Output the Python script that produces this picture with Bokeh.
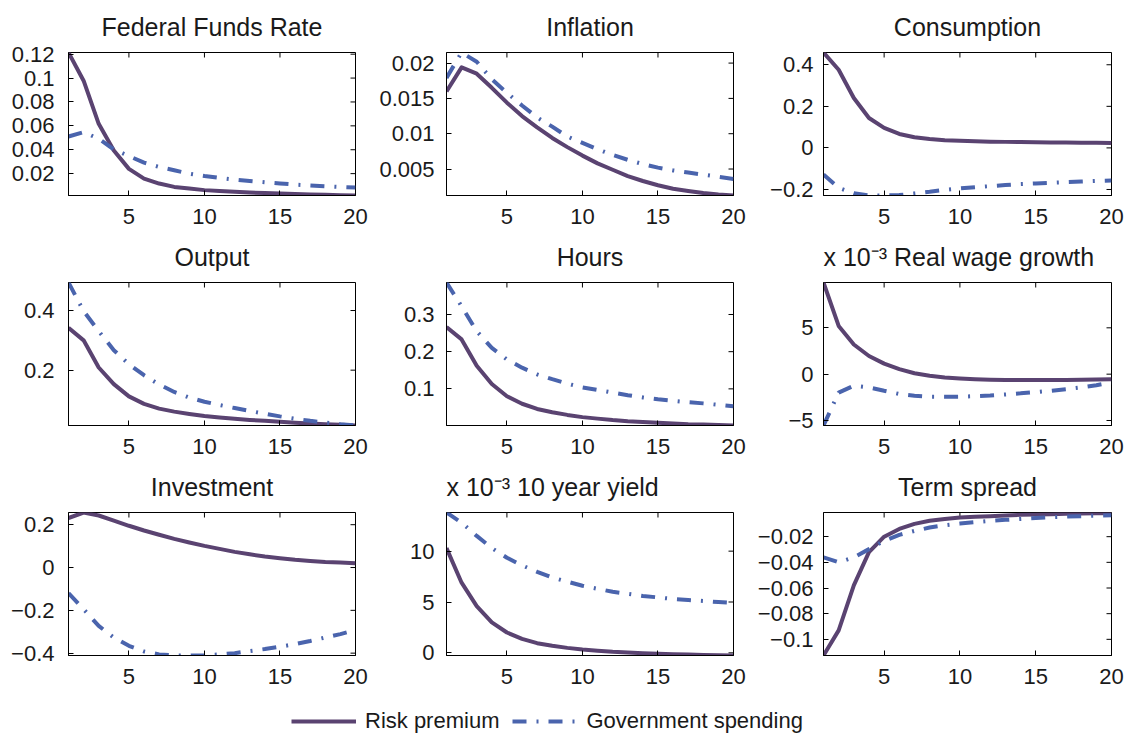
from bokeh.plotting import figure
from bokeh.models import FixedTicker, Legend, LegendItem
from bokeh.layouts import column, row
from bokeh.embed import file_html
from bokeh.resources import INLINE

# ---------------- data ----------------
horizon = list(range(1, 21))

titles = ["Federal Funds Rate", "Inflation", "Consumption",
          "Output", "Hours", "Real wage growth",
          "Investment", "10 year yield", "Term spread"]

ffr_rp = [0.1214, 0.0978, 0.0617, 0.0394, 0.0240, 0.0158, 0.0117, 0.0089, 0.0075, 0.0062,
          0.0054, 0.0048, 0.0042, 0.0037, 0.0033, 0.0029, 0.0026, 0.0023, 0.0020, 0.0017]
ffr_gs = [0.0511, 0.0547, 0.0492, 0.0403, 0.0347, 0.0292, 0.0256, 0.0228, 0.0200, 0.0180,
          0.0164, 0.0150, 0.0139, 0.0128, 0.0118, 0.0108, 0.0101, 0.0094, 0.0088, 0.0083]

infl_rp = [0.0160, 0.0194, 0.0185, 0.0165, 0.0144, 0.0125, 0.0109, 0.0094, 0.0081, 0.0069,
           0.0058, 0.0049, 0.0040, 0.0033, 0.0027, 0.0022, 0.0019, 0.0016, 0.0014, 0.00125]
infl_gs = [0.0179, 0.0215, 0.0202, 0.0177, 0.0158, 0.0140, 0.0123, 0.0110, 0.0096, 0.0087,
           0.0078, 0.0070, 0.0063, 0.0057, 0.0052, 0.0048, 0.0045, 0.0042, 0.0039, 0.0036]

cons_rp = [0.459, 0.376, 0.240, 0.144, 0.096, 0.067, 0.051, 0.043, 0.037, 0.034,
           0.032, 0.030, 0.029, 0.028, 0.027, 0.026, 0.026, 0.025, 0.025, 0.024]
cons_gs = [-0.128, -0.192, -0.218, -0.229, -0.229, -0.227, -0.219, -0.211, -0.202, -0.195,
           -0.189, -0.184, -0.179, -0.174, -0.171, -0.168, -0.165, -0.162, -0.159, -0.157]

out_rp = [0.342, 0.300, 0.209, 0.153, 0.112, 0.087, 0.071, 0.061, 0.053, 0.046,
          0.041, 0.037, 0.033, 0.030, 0.027, 0.024, 0.021, 0.019, 0.017, 0.0144]
out_gs = [0.494, 0.398, 0.331, 0.267, 0.220, 0.183, 0.152, 0.127, 0.108, 0.094,
          0.083, 0.073, 0.063, 0.054, 0.045, 0.037, 0.030, 0.024, 0.019, 0.0144]

hours_rp = [0.266, 0.233, 0.162, 0.113, 0.080, 0.060, 0.046, 0.037, 0.030, 0.024,
            0.020, 0.016, 0.013, 0.011, 0.009, 0.007, 0.005, 0.004, 0.003, 0.0015]
hours_gs = [0.386, 0.322, 0.255, 0.210, 0.179, 0.157, 0.139, 0.126, 0.114, 0.104,
            0.097, 0.090, 0.083, 0.077, 0.072, 0.068, 0.064, 0.061, 0.057, 0.053]

# real wage growth, in units of 10^-3
wage_rp = [9.89, 5.2, 3.2, 1.96, 1.14, 0.54, 0.10, -0.18, -0.36, -0.46,
           -0.54, -0.60, -0.63, -0.64, -0.64, -0.64, -0.63, -0.61, -0.58, -0.54]
wage_gs = [-5.54, -2.0, -1.25, -1.43, -1.79, -2.14, -2.32, -2.43, -2.45, -2.43,
           -2.37, -2.29, -2.19, -2.07, -1.94, -1.79, -1.62, -1.43, -1.20, -0.90]

inv_rp = [0.231, 0.257, 0.243, 0.219, 0.195, 0.173, 0.153, 0.134, 0.117, 0.101,
          0.087, 0.073, 0.062, 0.051, 0.043, 0.036, 0.031, 0.026, 0.023, 0.020]
inv_gs = [-0.120, -0.195, -0.273, -0.327, -0.366, -0.392, -0.406, -0.411, -0.411, -0.410,
          -0.406, -0.400, -0.390, -0.381, -0.370, -0.358, -0.343, -0.327, -0.311, -0.292]

# 10 year yield, in units of 10^-3
yld_rp = [10.3, 6.9, 4.6, 3.0, 2.0, 1.37, 0.95, 0.69, 0.49, 0.33,
          0.21, 0.10, 0.03, -0.03, -0.08, -0.13, -0.17, -0.20, -0.23, -0.26]
yld_gs = [13.8, 12.8, 11.5, 10.3, 9.35, 8.6, 7.97, 7.4, 7.0, 6.6,
          6.3, 6.0, 5.8, 5.6, 5.45, 5.3, 5.2, 5.1, 5.0, 4.9]

ts_rp = [-0.1126, -0.093, -0.058, -0.032, -0.020, -0.014, -0.010, -0.0076, -0.0063, -0.0050,
         -0.0045, -0.0040, -0.0035, -0.0030, -0.0027, -0.0025, -0.0022, -0.0020, -0.0018, -0.0017]
ts_gs = [-0.0361, -0.0400, -0.0361, -0.0297, -0.0232, -0.0186, -0.0155, -0.0129, -0.0111, -0.0098,
         -0.0087, -0.0077, -0.0069, -0.0062, -0.0055, -0.0049, -0.0044, -0.0040, -0.0036, -0.0033]

x_ticks = [5, 10, 15, 20]

y_ticks = [
    [0.02, 0.04, 0.06, 0.08, 0.1, 0.12],
    [0.005, 0.01, 0.015, 0.02],
    [-0.2, 0, 0.2, 0.4],
    [0.2, 0.4],
    [0, 0.1, 0.2, 0.3],
    [-5, 0, 5],
    [-0.4, -0.2, 0, 0.2],
    [0, 5, 10],
    [-0.1, -0.08, -0.06, -0.04, -0.02],
]
y_tick_labels = [
    ["0.02", "0.04", "0.06", "0.08", "0.1", "0.12"],
    ["0.005", "0.01", "0.015", "0.02"],
    ["\u22120.2", "0", "0.2", "0.4"],
    ["0.2", "0.4"],
    ["0", "0.1", "0.2", "0.3"],
    ["\u22125", "0", "5"],
    ["\u22120.4", "\u22120.2", "0", "0.2"],
    ["0", "5", "10"],
    ["\u22120.1", "\u22120.08", "\u22120.06", "\u22120.04", "\u22120.02"],
]
y_limits = [
    (0.0017, 0.1214), (0.00125, 0.0215), (-0.229, 0.459),
    (0.0144, 0.494), (0.0015, 0.386), (-5.54, 9.89),
    (-0.411, 0.257), (-0.26, 13.8), (-0.1126, -0.00116),
]
scale_prefix = ["", "", "", "", "", "x 10\u207b\u00b3 ", "", "x 10\u207b\u00b3 ", ""]

series_rp = [ffr_rp, infl_rp, cons_rp, out_rp, hours_rp, wage_rp, inv_rp, yld_rp, ts_rp]
series_gs = [ffr_gs, infl_gs, cons_gs, out_gs, hours_gs, wage_gs, inv_gs, yld_gs, ts_gs]

legend_labels = ["Risk premium", "Government spending"]

# ---------------- style ----------------
FONT = "Liberation Sans"
TXT = "#1a1a1a"
RP_COLOR = "#5a4371"
GS_COLOR = "#4a64ad"
GS_DASH = "14 10 2 10"

LEFTS = [68, 75, 74]
FRAMES = [287, 287, 288]
Y_STANDOFF = [14, 12, 10]
RIGHT = 16
TOP = 52
FRAME_H = 143
ROW_H = 230
TICK = 5


def style_axis(ax, ticks, labels=None, standoff=10):
    ax.ticker = FixedTicker(ticks=ticks)
    ax.minor_tick_line_color = None
    ax.major_tick_in = TICK
    ax.major_tick_out = 0
    ax.major_tick_line_color = "black"
    ax.axis_line_color = "black"
    ax.axis_line_width = 1
    if labels is not None:
        ax.major_label_overrides = {t: l for t, l in zip(ticks, labels)}
    ax.major_label_text_font = FONT
    ax.major_label_text_font_size = "22px"
    ax.major_label_text_color = TXT
    ax.major_label_standoff = standoff


def make_panel(i):
    col = i % 3
    lo, hi = y_limits[i]
    p = figure(width=LEFTS[col] + FRAMES[col] + RIGHT, height=ROW_H,
               x_range=(1, 20), y_range=(lo, hi),
               output_backend="svg", toolbar_location=None,
               min_border_left=LEFTS[col], min_border_right=RIGHT,
               min_border_top=TOP, min_border_bottom=ROW_H - TOP - FRAME_H)
    p.xgrid.visible = False
    p.ygrid.visible = False
    p.outline_line_color = "black"
    p.outline_line_width = 1

    style_axis(p.xaxis[0], x_ticks, standoff=13)
    style_axis(p.yaxis[0], y_ticks[i], y_tick_labels[i], standoff=Y_STANDOFF[col])

    # mirrored inward ticks on top and right edges
    dy = (hi - lo) * TICK / FRAME_H
    dx = 19.0 * TICK / FRAMES[col]
    p.segment(x0=x_ticks, y0=[hi] * len(x_ticks), x1=x_ticks, y1=[hi - dy] * len(x_ticks),
              line_color="black", line_width=1)
    yt = y_ticks[i]
    p.segment(x0=[20] * len(yt), y0=yt, x1=[20 - dx] * len(yt), y1=yt,
              line_color="black", line_width=1)

    p.line(horizon, series_rp[i], line_color=RP_COLOR, line_width=4, line_join="round")
    p.line(horizon, series_gs[i], line_color=GS_COLOR, line_width=4, line_dash=GS_DASH)

    p.title.text = scale_prefix[i] + titles[i]
    p.title.align = "left" if scale_prefix[i] else "center"
    p.title.offset = 0
    p.title.vertical_align = "top"
    p.title.standoff = 20
    p.title.text_font = FONT
    p.title.text_font_size = "25px"
    p.title.text_font_style = "normal"
    p.title.text_color = TXT
    return p


panels = [make_panel(i) for i in range(9)]

# ---------------- legend strip ----------------
total_w = sum(LEFTS) + sum(FRAMES) + 3 * RIGHT
leg = figure(width=total_w, height=50, x_range=(0, 1), y_range=(0, 1),
             output_backend="svg", toolbar_location=None,
             x_axis_type=None, y_axis_type=None,
             min_border=0, min_border_left=0, min_border_right=0,
             min_border_top=0, min_border_bottom=0)
leg.outline_line_color = None
leg.xgrid.visible = False
leg.ygrid.visible = False
r1 = leg.line(horizon, ffr_rp, line_color=RP_COLOR, line_width=4, visible=False)
r2 = leg.line(horizon, ffr_gs, line_color=GS_COLOR, line_width=4, line_dash=GS_DASH, visible=False)
legend = Legend(items=[LegendItem(label=legend_labels[0], renderers=[r1]),
                       LegendItem(label=legend_labels[1], renderers=[r2])],
                orientation="horizontal", location=(291, 6),
                padding=0, margin=0, spacing=13, label_standoff=9,
                glyph_width=65, glyph_height=22, label_height=22,
                border_line_color=None, background_fill_alpha=0,
                label_text_font=FONT, label_text_font_size="22px",
                label_text_color=TXT, click_policy="none")
leg.add_layout(legend)

layout = column(row(*panels[0:3]), row(*panels[3:6]), row(*panels[6:9]), leg)

with open("out.html", "w") as f:
    f.write(file_html(layout, INLINE))
